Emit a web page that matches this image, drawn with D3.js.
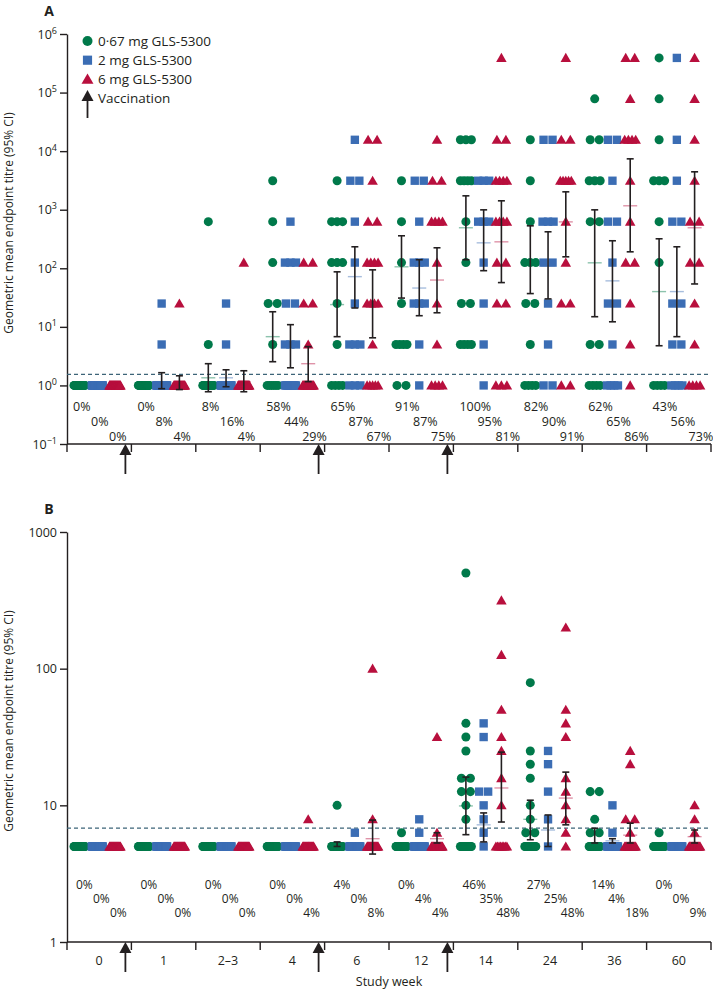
<!DOCTYPE html>
<html><head><meta charset="utf-8">
<script src="https://cdn.jsdelivr.net/npm/d3@7"></script>
<style>
body{margin:0;background:#fff}
svg{display:block}
text{font-family:"Open Sans",sans-serif;fill:#231f20}
</style>
</head><body>
<svg id="c" width="713" height="991"></svg>
<script>
// ---------- data ----------
const weeks = ["0","1","2–3","4","6","12","14","24","36","60"];
const groupNames = ["0·67 mg GLS-5300","2 mg GLS-5300","6 mg GLS-5300"];
const groupColors = ["#00794a","#3b6db4","#b80f3d"];
const vaccinationBefore = ["1","6","14"];

// Panel A: endpoint titres above the baseline value (1), per study week
const aLow = [[],[],[625,5],[3125,625,125,25,25,5],[3125,625,625,625,125,125,125,25,5],
  [3125,625,125,25,5,5,5,5],
  [15625,15625,15625,3125,3125,3125,3125,625,125,25,25,5,5,5,5],
  [15625,3125,625,125,125,125,25,25,5],
  [78125,15625,15625,3125,3125,3125,625,625,5,5],
  [390625,78125,15625,3125,3125,3125,625,125]];
const aMid = [[],[25,5],[25,5],[625,125,125,125,25,25,5,5,5],[15625,3125,3125,625,125,25,5,5,5],
  [3125,3125,625,125,125,125,25,25,25,5],
  [3125,3125,3125,625,625,625,125,25,5],
  [15625,15625,625,625,625,125,125,25,5],
  [15625,15625,3125,625,625,125,25,25,5],
  [390625,15625,3125,625,625,25,25,5,5]];
const aHigh = [[],[25],[125],[125,125,25,25,5],
  [15625,15625,3125,625,625,125,125,125,125,25,25,25,25,5],
  [15625,3125,3125,625,625,625,625,125,25,5],
  [390625,15625,15625,3125,3125,3125,3125,625,625,625,625,125,125,25,25],
  [390625,15625,15625,3125,3125,3125,3125,3125,625,125,25,25],
  [390625,390625,78125,15625,15625,15625,15625,3125,625,125,125,25,5],
  [390625,78125,15625,3125,625,625,125,125,25,5]];
// number of participants at baseline titre (1)
const aLowBase  = [24,24,22,6,4,2,0,4,4,4];
const aMidBase  = [25,23,21,12,3,1,1,2,4,4];
const aHighBase = [24,23,23,17,5,4,3,2,1,4];
// geometric mean, lower, upper 95% CI
const aLowCI  = [null,null,[1.35,0.78,2.35],[6.8,2.54,18.1],[24,6.8,87],[106,31,359],[492,140,1726],[140,37,531],[124,14.9,995],[40,4.76,319]];
const aMidCI  = [null,[1.16,0.88,1.65],[1.35,0.95,1.85],[4.6,2.0,10.9],[72,21,233],[46,15.5,140],[272,91,995],[110,30,420],[61,12.2,295],[40,6.8,233]];
const aHighCI = [null,[1.1,0.85,1.46],[1.16,0.78,1.78],[2.35,1.16,4.6],[25,6.5,94],[63,17.4,224],[283,57,1419],[620,157,2020],[1167,191,7390],[492,54,4436]];
const pctALow  = [0,0,8,58,65,91,100,82,62,43];
const pctAMid  = [0,8,16,44,87,87,95,90,65,56];
const pctAHigh = [0,4,4,29,67,75,81,91,86,73];
const aTicks = [0.1,1,10,100,1000,10000,100000,1000000];
const aTickExp = ["−1","0","1","2","3","4","5","6"];
const aCutoff = 1.54;

// Panel B: titres above baseline value (5)
const bLow = [[],[],[],[],[10],[6.3],[501,39.8,31.6,25,15.8,15.8,12.6,12.6,10,7.9],
  [79,25,20,15.8,10,7.9,6.3,6.3],[12.6,12.6,7.9,6.3,6.3],[6.3]];
const bMid = [[],[],[],[],[6.3],[7.9,6.3],[39.8,31.6,12.6,12.6,10,7.9,6.3],[25,20,12.6,7.9],[10,6.3],[]];
const bHigh = [[],[],[],[7.9],[100,7.9],[31.6,6.3],[316,126,50,31.6,25,15.8,10],
  [200,50,39.8,31.6,15.8,12.6,10,7.9,6.3],[25,20,7.9,7.9,6.3],[10,7.9,6.3]];
const bLowBase  = [22,22,22,22,21,21,12,14,16,21];
const bMidBase  = [22,22,22,22,21,20,1,1,19,21];
const bHighBase = [22,22,22,21,20,20,8,1,17,19];
const bLowCI  = [null,null,null,null,[5.2,5.0,5.4],null,[9.9,6.1,16.1],[7.9,5.6,10.9],[6.05,5.3,6.8],null];
const bMidCI  = [null,null,null,null,null,null,[7.2,5.4,8.8],[6.6,5.0,8.5],[5.5,5.3,5.7],null];
const bHighCI = [null,null,null,null,[5.7,4.4,7.8],[5.7,5.3,6.3],[13.4,7.55,24.5],[11.3,7.2,17.5],[6.05,5.3,7.4],[5.9,5.3,6.6]];
const pctBLow  = [0,0,0,0,4,0,46,27,14,0];
const pctBMid  = [0,0,0,0,0,4,35,25,4,0];
const pctBHigh = [0,0,0,4,8,4,48,48,18,9];
const bTicks = [1,10,100,1000];
const bCutoff = 6.8;

// ---------- drawing ----------
const svg = d3.select("#c");
const ink = "#231f20";
const x = d3.scaleBand().domain(weeks).range([67, 711]);
const gx = d3.scalePoint().domain([0,1,2]).range([12.5, 48]);
const symbolTypes = [d3.symbolCircle, d3.symbolSquare, d3.symbolTriangle];
const symbolSizes = [64, 70, 48];

function drawPanel(o) {
  const g = svg.append("g");
  const y = o.y;
  const [y0, y1] = y.range();
  const x0 = x.range()[0], x1 = x.range()[1];

  // y axis
  const ax = g.append("g").attr("transform", `translate(${x0},0)`)
    .call(d3.axisLeft(y).tickValues(o.ticks).tickSize(7).tickSizeOuter(0).tickPadding(3)
      .tickFormat(o.tickFormat || (d => d)));
  ax.select(".domain").attr("stroke", ink).attr("stroke-width", 1.4);
  ax.selectAll(".tick line").attr("stroke", ink).attr("stroke-width", 1.4);
  ax.selectAll(".tick text").attr("font-size", 12.5).attr("font-family", '"Open Sans",sans-serif').attr("fill", ink);
  if (o.exps) {
    ax.selectAll(".tick text").each(function(d, i) {
      const t = d3.select(this).text(null);
      t.append("tspan").text("10");
      t.append("tspan").attr("dy", -5).attr("font-size", 9).text(o.exps[i]);
    });
  }

  // x axis line + boundary ticks
  g.append("line").attr("x1", x0).attr("x2", x1).attr("y1", y0).attr("y2", y0)
    .attr("stroke", ink).attr("stroke-width", 1.4);
  const bounds = weeks.map(w => x(w)).concat([x1]);
  g.selectAll(".bt").data(bounds).join("line")
    .attr("x1", d => d).attr("x2", d => d).attr("y1", y0).attr("y2", y0 + 8)
    .attr("stroke", ink).attr("stroke-width", 1.4);

  // cutoff dashed line
  g.append("line").attr("x1", x0).attr("x2", x1).attr("y1", y(o.cutoff)).attr("y2", y(o.cutoff))
    .attr("stroke", "#3d6478").attr("stroke-width", 1.2).attr("stroke-dasharray", "4,3");

  // mean lines
  o.ci.forEach((arr, gi) => {
    arr.forEach((s, ci) => {
      if (!s) return;
      const cx = x(weeks[ci]) + gx(gi);
      g.append("line").attr("x1", cx - 7).attr("x2", cx + 7).attr("y1", y(s[0])).attr("y2", y(s[0]))
        .attr("stroke", groupColors[gi]).attr("stroke-opacity", 0.45).attr("stroke-width", 1.4);
    });
  });

  // points
  o.series.forEach((ser, gi) => {
    const pts = [];
    ser.forEach((vals, ci) => {
      const all = vals.concat(Array(o.base[gi][ci]).fill(o.baseVal));
      const counts = d3.rollup(all, v => v.length, d => d);
      const cx = x(weeks[ci]) + gx(gi);
      counts.forEach((n, v) => {
        const span = n > 1 ? Math.min((n - 1) * 9, 11) : 0;
        for (let i = 0; i < n; i++) {
          pts.push({x: cx - span / 2 + (n > 1 ? i * span / (n - 1) : 0), y: y(v)});
        }
      });
    });
    g.append("g").selectAll("path").data(pts).join("path")
      .attr("d", d3.symbol(symbolTypes[gi], symbolSizes[gi]))
      .attr("transform", d => `translate(${d.x},${d.y + (gi === 2 ? 1 : 0)})`)
      .attr("fill", groupColors[gi]);
  });

  // error bars
  o.ci.forEach((arr, gi) => {
    arr.forEach((s, ci) => {
      if (!s) return;
      const cx = x(weeks[ci]) + gx(gi);
      const eb = g.append("g").attr("stroke", ink).attr("stroke-width", 1.6);
      eb.append("line").attr("x1", cx).attr("x2", cx).attr("y1", y(s[1])).attr("y2", y(s[2]));
      eb.append("line").attr("x1", cx - 3.5).attr("x2", cx + 3.5).attr("y1", y(s[1])).attr("y2", y(s[1]));
      eb.append("line").attr("x1", cx - 3.5).attr("x2", cx + 3.5).attr("y1", y(s[2])).attr("y2", y(s[2]));
    });
  });

  // percentages
  o.pct.forEach((arr, gi) => {
    g.append("g").selectAll("text").data(arr).join("text")
      .attr("x", (d, ci) => x(weeks[ci]) + o.pctX[gi])
      .attr("y", o.pctY[gi])
      .attr("font-size", o.pctSize).attr("fill", "#333")
      .text(d => d + "%");
  });

  // vaccination arrows
  vaccinationBefore.forEach(w => {
    const ax0 = x(w) - 6;
    g.append("line").attr("x1", ax0).attr("x2", ax0).attr("y1", y0 + 8).attr("y2", y0 + 30)
      .attr("stroke", ink).attr("stroke-width", 1.8);
    g.append("path").attr("d", `M${ax0},${y0}L${ax0 + 6},${y0 + 11}L${ax0 - 6},${y0 + 11}Z`).attr("fill", ink);
  });

  // panel letter + y title
  svg.append("text").attr("x", 49).attr("y", o.letterY).attr("text-anchor", "middle")
    .attr("font-size", 14).attr("font-weight", "bold").text(o.letter);
  svg.append("text").attr("transform", `translate(13,${o.titleY}) rotate(-90)`)
    .attr("text-anchor", "middle").attr("font-size", 12).text("Geometric mean endpoint titre (95% CI)");
}

const yA = d3.scaleLog().domain([0.1, 1e6]).range([444, 34]);
drawPanel({
  y: yA, ticks: aTicks, exps: aTickExp, cutoff: aCutoff,
  series: [aLow, aMid, aHigh], base: [aLowBase, aMidBase, aHighBase], baseVal: 1,
  ci: [aLowCI, aMidCI, aHighCI], pct: [pctALow, pctAMid, pctAHigh],
  pctX: [6, 24, 42], pctY: [410.5, 426, 441], pctSize: 12.5,
  letter: "A", letterY: 16, titleY: 223
});

const yB = d3.scaleLog().domain([1, 1000]).range([942, 532]);
drawPanel({
  y: yB, ticks: bTicks, cutoff: bCutoff, tickFormat: d => String(d),
  series: [bLow, bMid, bHigh], base: [bLowBase, bMidBase, bHighBase], baseVal: 5,
  ci: [bLowCI, bMidCI, bHighCI], pct: [pctBLow, pctBMid, pctBHigh],
  pctX: [9, 26, 43], pctY: [889, 902.5, 916.5], pctSize: 12,
  letter: "B", letterY: 514, titleY: 721
});

// week labels (panel B) and axis title
svg.append("g").selectAll("text").data(weeks).join("text")
  .attr("x", d => x(d) + x.bandwidth() / 2).attr("y", 965)
  .attr("text-anchor", "middle").attr("font-size", 12.5).text(d => d);
svg.append("text").attr("x", 389).attr("y", 986).attr("text-anchor", "middle")
  .attr("font-size", 12.5).text("Study week");

// legend
const leg = svg.append("g");
groupNames.forEach((name, i) => {
  const ly = 41 + i * 19.2;
  leg.append("path").attr("d", d3.symbol(symbolTypes[i], symbolSizes[i] + 14))
    .attr("transform", `translate(87.5,${ly + (i === 2 ? 1 : 0)})`).attr("fill", groupColors[i]);
  leg.append("text").attr("x", 98).attr("y", ly).attr("dy", "0.35em").attr("font-size", 13.5).text(name);
});
leg.append("line").attr("x1", 87.5).attr("x2", 87.5).attr("y1", 98).attr("y2", 118)
  .attr("stroke", ink).attr("stroke-width", 1.8);
leg.append("path").attr("d", "M87.5,90L93.5,101L81.5,101Z").attr("fill", ink);
leg.append("text").attr("x", 98).attr("y", 98.5).attr("dy", "0.35em").attr("font-size", 13.5).text("Vaccination");
</script>
</body></html>
